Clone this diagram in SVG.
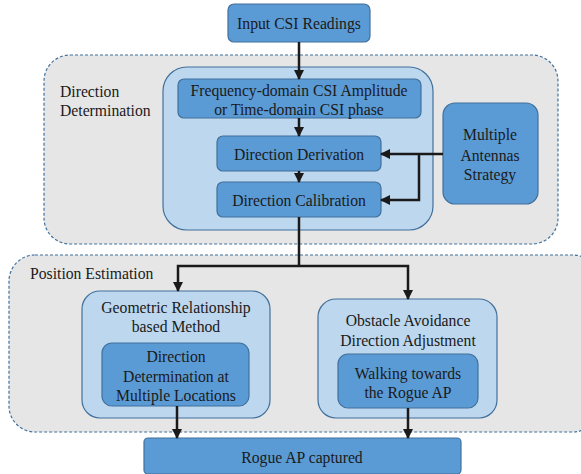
<svg xmlns="http://www.w3.org/2000/svg" width="581" height="474" viewBox="0 0 581 474" font-family="'Liberation Serif', 'DejaVu Serif', serif">
<defs>
<marker id="ah" viewBox="0 0 10 10" refX="9" refY="5" markerWidth="4" markerHeight="4" orient="auto" markerUnits="strokeWidth">
<path d="M0,0 L10,5 L0,10 z" fill="#1a1a1a"/>
</marker>
</defs>
<style>
text{font-family:'Liberation Serif','DejaVu Serif',serif;font-size:15.7px;fill:#1a1a1a;text-anchor:middle;dominant-baseline:central}
.grp{fill:#e7e6e6;stroke:#41719c;stroke-width:1.2;stroke-dasharray:3,2}
.lt{fill:#bdd7ee;stroke:#41719c;stroke-width:1.2}
.dk{fill:#5b9bd5;stroke:#41719c;stroke-width:1.2}
.c{fill:none;stroke:#1a1a1a;stroke-width:2.5}
.l{text-anchor:start}
</style>
<g id="direction-determination">
<rect class="grp" x="44" y="55" width="514" height="189" rx="26"/>
<text class="l" x="60" y="91">Direction</text>
<text class="l" x="60" y="110">Determination</text>
</g>
<g id="position-estimation">
<rect class="grp" x="9" y="255" width="590" height="177" rx="26"/>
<text class="l" x="30" y="273">Position Estimation</text>
</g>
<g id="input">
<rect class="dk" x="228" y="4" width="142" height="38" rx="6"/>
<text x="299" y="23">Input CSI Readings</text>
</g>
<g id="direction-container">
<rect class="lt" x="163" y="67" width="270" height="163" rx="24"/>
</g>
<g id="csi-source">
<rect class="dk" x="178" y="79" width="243" height="39" rx="6"/>
<text x="299" y="90">Frequency-domain CSI Amplitude</text>
<text x="299" y="109">or Time-domain CSI phase</text>
</g>
<g id="direction-derivation">
<rect class="dk" x="217" y="136" width="164" height="35" rx="6"/>
<text x="299" y="154">Direction Derivation</text>
</g>
<g id="direction-calibration">
<rect class="dk" x="217" y="182" width="164" height="35" rx="6"/>
<text x="299" y="200">Direction Calibration</text>
</g>
<g id="multiple-antennas">
<rect class="dk" x="443" y="103" width="95" height="101" rx="12"/>
<text x="490" y="134">Multiple</text>
<text x="490" y="155">Antennas</text>
<text x="490" y="174">Strategy</text>
</g>
<g id="geometric">
<rect class="lt" x="82" y="291" width="188" height="127" rx="18"/>
<text x="176" y="307">Geometric Relationship</text>
<text x="176" y="326">based Method</text>
</g>
<g id="multi-location">
<rect class="dk" x="102" y="343" width="147" height="63" rx="10"/>
<text x="176" y="356">Direction</text>
<text x="176" y="376">Determination at</text>
<text x="176" y="395">Multiple Locations</text>
</g>
<g id="obstacle">
<rect class="lt" x="318" y="299" width="179" height="119" rx="18"/>
<text x="408" y="320">Obstacle Avoidance</text>
<text x="408" y="340">Direction Adjustment</text>
</g>
<g id="walking">
<rect class="dk" x="338" y="354" width="140" height="54" rx="10"/>
<text x="408" y="373">Walking towards</text>
<text x="408" y="392">the Rogue AP</text>
</g>
<g id="captured">
<rect class="dk" x="144" y="438" width="317" height="36" rx="4"/>
<text x="302" y="457">Rogue AP captured</text>
</g>
<g id="connectors">
<path class="c" d="M299,42 V79" marker-end="url(#ah)"/>
<path class="c" d="M299,118 V136" marker-end="url(#ah)"/>
<path class="c" d="M299,171 V182" marker-end="url(#ah)"/>
<path class="c" d="M443,154 H381" marker-end="url(#ah)"/>
<path class="c" d="M419,154 V200 H381" marker-end="url(#ah)"/>
<path class="c" d="M299,217 V266"/>
<path class="c" d="M299,266 H178 V291" marker-end="url(#ah)"/>
<path class="c" d="M299,266 H408 V299" marker-end="url(#ah)"/>
<path class="c" d="M177,406 V438" marker-end="url(#ah)"/>
<path class="c" d="M408,408 V438" marker-end="url(#ah)"/>
</g>
</svg>
